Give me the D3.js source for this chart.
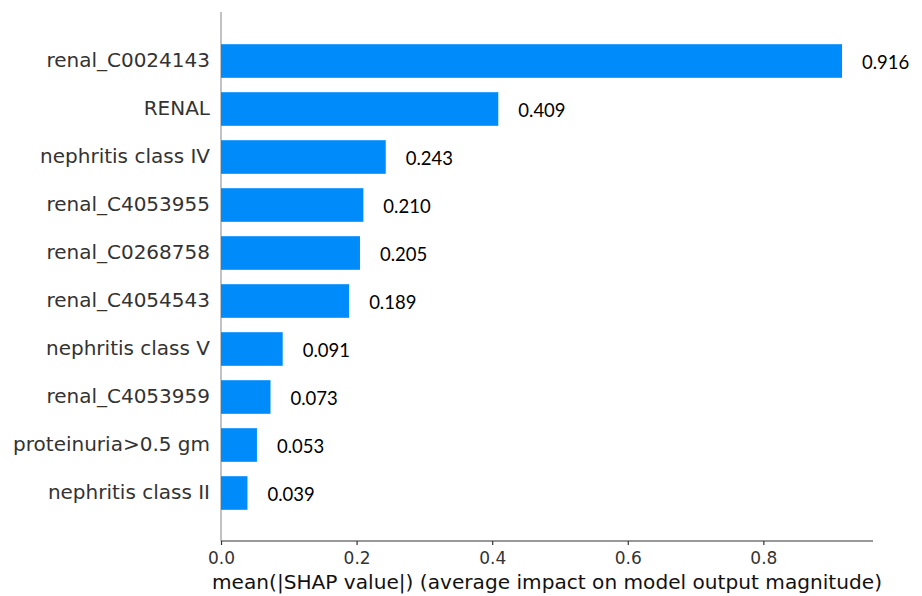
<!DOCTYPE html>
<html>
<head>
<meta charset="utf-8">
<script src="https://cdn.jsdelivr.net/npm/d3@7"></script>
<style>
  html, body { margin: 0; padding: 0; background: #fff; }
  svg { display: block; }
</style>
</head>
<body>
<svg id="chart" width="922" height="596"></svg>
<script>
// Mean absolute SHAP values per feature
const features = [
  "renal_C0024143", "RENAL", "nephritis class IV", "renal_C4053955",
  "renal_C0268758", "renal_C4054543", "nephritis class V", "renal_C4053959",
  "proteinuria>0.5 gm", "nephritis class II"
];
const shapValues = [0.916, 0.409, 0.243, 0.210, 0.205, 0.189, 0.091, 0.073, 0.053, 0.039];
const xTicks = [0.0, 0.2, 0.4, 0.6, 0.8];
const xTitle = "mean(|SHAP value|) (average impact on model output magnitude)";

const svg = d3.select("#chart");
const plotLeft = 221, plotRight = 873, plotTop = 37, plotBottom = 541;

const x = d3.scaleLinear().domain([0, 0.9617]).range([plotLeft, plotRight]);
const y = d3.scaleBand().domain(features)
  .range([plotTop, plotTop + 48 * features.length])
  .paddingInner(0.3).paddingOuter(0.15);

// zero line
svg.append("line")
  .attr("x1", x(0)).attr("x2", x(0))
  .attr("y1", 12).attr("y2", plotBottom)
  .attr("stroke", "#999").attr("stroke-width", 1.2);

// bars
svg.append("g").selectAll("rect")
  .data(features)
  .join("rect")
  .attr("x", x(0))
  .attr("y", d => y(d))
  .attr("width", (d, i) => x(shapValues[i]) - x(0))
  .attr("height", y.bandwidth())
  .attr("fill", "#008bfb");

// value labels
svg.append("g").selectAll("text")
  .data(features)
  .join("text")
  .attr("x", (d, i) => x(shapValues[i]) + 20)
  .attr("y", d => y(d) + y.bandwidth() / 2 + 3)
  .attr("dominant-baseline", "middle")
  .style("font-family", "Lato, 'Open Sans', sans-serif")
  .style("font-size", "18.5px")
  .attr("fill", "#000")
  .text((d, i) => shapValues[i].toFixed(3));

// feature names
svg.append("g").selectAll("text")
  .data(features)
  .join("text")
  .attr("x", plotLeft - 11)
  .attr("y", d => y(d) + y.bandwidth() / 2)
  .attr("text-anchor", "end")
  .attr("dominant-baseline", "middle")
  .style("font-family", "'DejaVu Sans', sans-serif")
  .style("font-size", "20px")
  .attr("fill", "#333")
  .text(d => d);

// x axis
const xAxis = d3.axisBottom(x).tickValues(xTicks).tickFormat(d3.format(".1f")).tickSize(4).tickPadding(7);
const gx = svg.append("g")
  .attr("transform", `translate(0,${plotBottom})`)
  .call(xAxis);
gx.select(".domain").attr("stroke", "#333").attr("stroke-width", 1.2).attr("d", `M${plotLeft},0H${plotRight}`);
gx.selectAll(".tick line").attr("stroke", "#333").attr("stroke-width", 1.2);
gx.selectAll(".tick text")
  .style("font-family", "'DejaVu Sans', sans-serif")
  .style("font-size", "17px")
  .attr("fill", "#333");

svg.append("text")
  .attr("x", (212 + 882) / 2)
  .attr("y", 589)
  .attr("text-anchor", "middle")
  .attr("textLength", 670)
  .attr("lengthAdjust", "spacingAndGlyphs")
  .style("font-family", "'DejaVu Sans', sans-serif")
  .style("font-size", "19px")
  .attr("fill", "#111")
  .text(xTitle);
</script>
</body>
</html>
